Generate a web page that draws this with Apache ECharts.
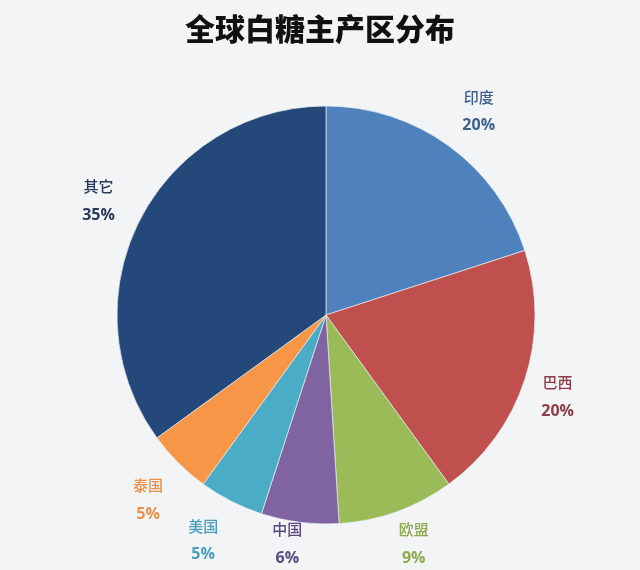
<!DOCTYPE html>
<html>
<head>
<meta charset="utf-8">
<script src="https://cdn.jsdelivr.net/npm/echarts@6/dist/echarts.min.js"></script>
<style>
html,body{margin:0;padding:0;background:#f3f4f6;}
#c{width:640px;height:570px;}
</style>
</head>
<body>
<div id="c"></div>
<script>
const titleText = '全球白糖主产区分布';
const categories = ['印度', '巴西', '欧盟', '中国', '美国', '泰国', '其它'];
const values = [20, 20, 9, 6, 5, 5, 35];
const sliceColors = ['#4F81BD', '#C0504D', '#9BBB59', '#8064A2', '#4BACC6', '#F79646', '#24487A'];
const labelColors = ['#3D5F8F', '#8E3A48', '#8DAA4C', '#5A4A80', '#4A9CBC', '#E8914A', '#2B3A5C'];

const chart = echarts.init(document.getElementById('c'), null, {renderer: 'canvas'});
const mainData = categories.map((n, i) => ({name: n, value: values[i], itemStyle: {color: sliceColors[i]}}));
const labelNudge = {'印度': [4, 1], '巴西': [-9, 4], '欧盟': [2, -9], '中国': [-7, -22], '美国': [-8, 0], '泰国': [1, 6], '其它': [-2, 1]};
const labelData = categories.map((n, i) => ({name: n, value: values[i], label: {color: labelColors[i], offset: labelNudge[n]}}));

chart.setOption({
  backgroundColor: '#f3f4f6',
  animation: false,
  title: {
    text: titleText,
    left: 'center',
    top: 9,
    textStyle: {fontFamily: 'Noto Sans CJK SC', fontSize: 30, fontWeight: 900, color: '#111'}
  },
  series: [
    {
      type: 'pie',
      center: [326, 315],
      radius: 209,
      startAngle: 90,
      clockwise: true,
      label: {show: false},
      labelLine: {show: false},
      itemStyle: {borderColor: 'rgba(230,235,240,0.7)', borderWidth: 1},
      emphasis: {disabled: true},
      data: mainData
    },
    {
      type: 'pie',
      center: [326, 315],
      radius: [236, 264],
      startAngle: 90,
      clockwise: true,
      silent: true,
      itemStyle: {color: 'rgba(0,0,0,0)'},
      label: {
        show: true,
        position: 'inside',
        formatter: '{n|{b}}\n{p|{c}%}',
        fontFamily: 'Noto Sans CJK SC',
        rich: {
          n: {fontSize: 15, lineHeight: 29, fontFamily: 'Noto Sans CJK SC', fontWeight: 500},
          p: {fontSize: 16, lineHeight: 29, fontFamily: 'Open Sans', fontWeight: 'bold'}
        }
      },
      labelLine: {show: false},
      emphasis: {disabled: true},
      data: labelData
    }
  ]
});
</script>
</body>
</html>
